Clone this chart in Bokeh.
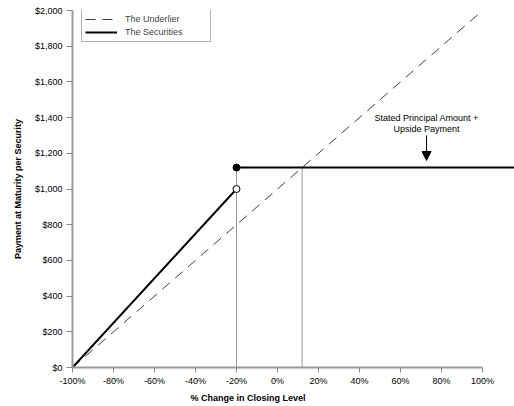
from bokeh.plotting import figure
from bokeh.models import Range1d, FixedTicker, NumeralTickFormatter, Arrow, NormalHead, Legend, LegendItem, Title
from bokeh.core.properties import value
from bokeh.embed import file_html
from bokeh.resources import INLINE

# ---- data ----
x_ticks = [-100, -80, -60, -40, -20, 0, 20, 40, 60, 80, 100]
x_tick_labels = ["-100%", "-80%", "-60%", "-40%", "-20%", "0%", "20%", "40%", "60%", "80%", "100%"]
y_ticks = [0, 200, 400, 600, 800, 1000, 1200, 1400, 1600, 1800, 2000]

underlier_x = [-100, 100]
underlier_y = [0, 2000]

securities_x = [-100, -20]
securities_y = [0, 1000]

cap_x = [-20, 116]
cap_y = [1120, 1120]

threshold_pct = -20
threshold_value = 1000
cap_value = 1120
breakeven_pct = 12

annot_lines = ["Stated Principal Amount +", "Upside Payment"]
annot_x = [72.7, 72.7]
annot_y = [1399, 1337]
arrow_x = 72.7
arrow_y = [1300, 1160]

FONT = "Liberation Sans"

p = figure(width=514, height=406, output_backend="svg", toolbar_location=None,
           x_range=Range1d(-100, 115.6), y_range=Range1d(0, 2000),
           min_border_left=72, min_border_right=0, min_border_top=10, min_border_bottom=39)
p.outline_line_color = None
p.xgrid.grid_line_color = None
p.ygrid.grid_line_color = None

# dotted guide lines
p.segment(x0=[threshold_pct, breakeven_pct], y0=[0, 0],
          x1=[threshold_pct, breakeven_pct], y1=[cap_value, cap_value],
          line_color="#333333", line_width=1, line_dash="1 1")

r_under = p.line(underlier_x, underlier_y, line_color="#404040", line_width=1, line_dash="10 7")
r_sec = p.line(securities_x, securities_y, line_color="black", line_width=2)
p.line(cap_x, cap_y, line_color="black", line_width=2)

p.scatter([threshold_pct], [cap_value], size=7, fill_color="black", line_color="black")
p.scatter([threshold_pct], [threshold_value], size=7, fill_color="white", line_color="black", line_width=1)

p.text(x=annot_x, y=annot_y, text=annot_lines, text_font=value(FONT), text_font_size="9px",
       text_align="center", text_baseline="middle", text_color="black")
p.add_layout(Arrow(end=NormalHead(size=9, fill_color="black", line_color="black"),
                   x_start=arrow_x, y_start=arrow_y[0], x_end=arrow_x, y_end=arrow_y[1],
                   line_color="black", line_width=1))

# axes
for ax in (p.xaxis[0], p.yaxis[0]):
    ax.axis_line_color = "#9a9a9a"
    ax.axis_line_width = 2
    ax.major_tick_line_color = "#888888"
    ax.major_tick_line_width = 1
    ax.major_tick_in = 0
    ax.minor_tick_line_color = None
    ax.major_label_text_font = FONT
    ax.major_label_text_font_size = "9px"
    ax.major_label_text_color = "black"
    ax.axis_label_text_font = FONT
    ax.axis_label_text_font_size = "9px"
    ax.axis_label_text_font_style = "bold"
    ax.axis_label_text_color = "black"

p.xaxis.ticker = FixedTicker(ticks=x_ticks)
p.xaxis.major_label_overrides = dict(zip(x_ticks, x_tick_labels))
p.xaxis.bounds = (-100, 100)
p.xaxis.major_tick_out = 5
p.xaxis.major_label_standoff = 3

xtitle = Title(text="% Change in Closing Level", align="left", offset=118, standoff=5,
               text_font=FONT, text_font_size="9px", text_font_style="bold", text_color="black")
p.add_layout(xtitle, "below")

p.yaxis.ticker = FixedTicker(ticks=y_ticks)
p.yaxis.formatter = NumeralTickFormatter(format="$0,0")
p.yaxis.major_tick_out = 6
p.yaxis.major_label_standoff = 4
p.yaxis.axis_label = "Payment at Maturity per Security"
p.yaxis.axis_label_standoff = 9

legend = Legend(items=[LegendItem(label="The Underlier", renderers=[r_under]),
                       LegendItem(label="The Securities", renderers=[r_sec])],
                location=(9, 325))
legend.label_text_font = FONT
legend.label_text_font_size = "9px"
legend.label_height = 12
legend.glyph_height = 12
legend.glyph_width = 32
legend.label_width = 82
legend.label_standoff = 8
legend.padding = 3
legend.spacing = 1
legend.margin = 0
legend.border_line_color = "#666666"
legend.border_line_width = 1
legend.background_fill_alpha = 1
p.add_layout(legend, "center")

open("out.html", "w").write(file_html(p, INLINE))
